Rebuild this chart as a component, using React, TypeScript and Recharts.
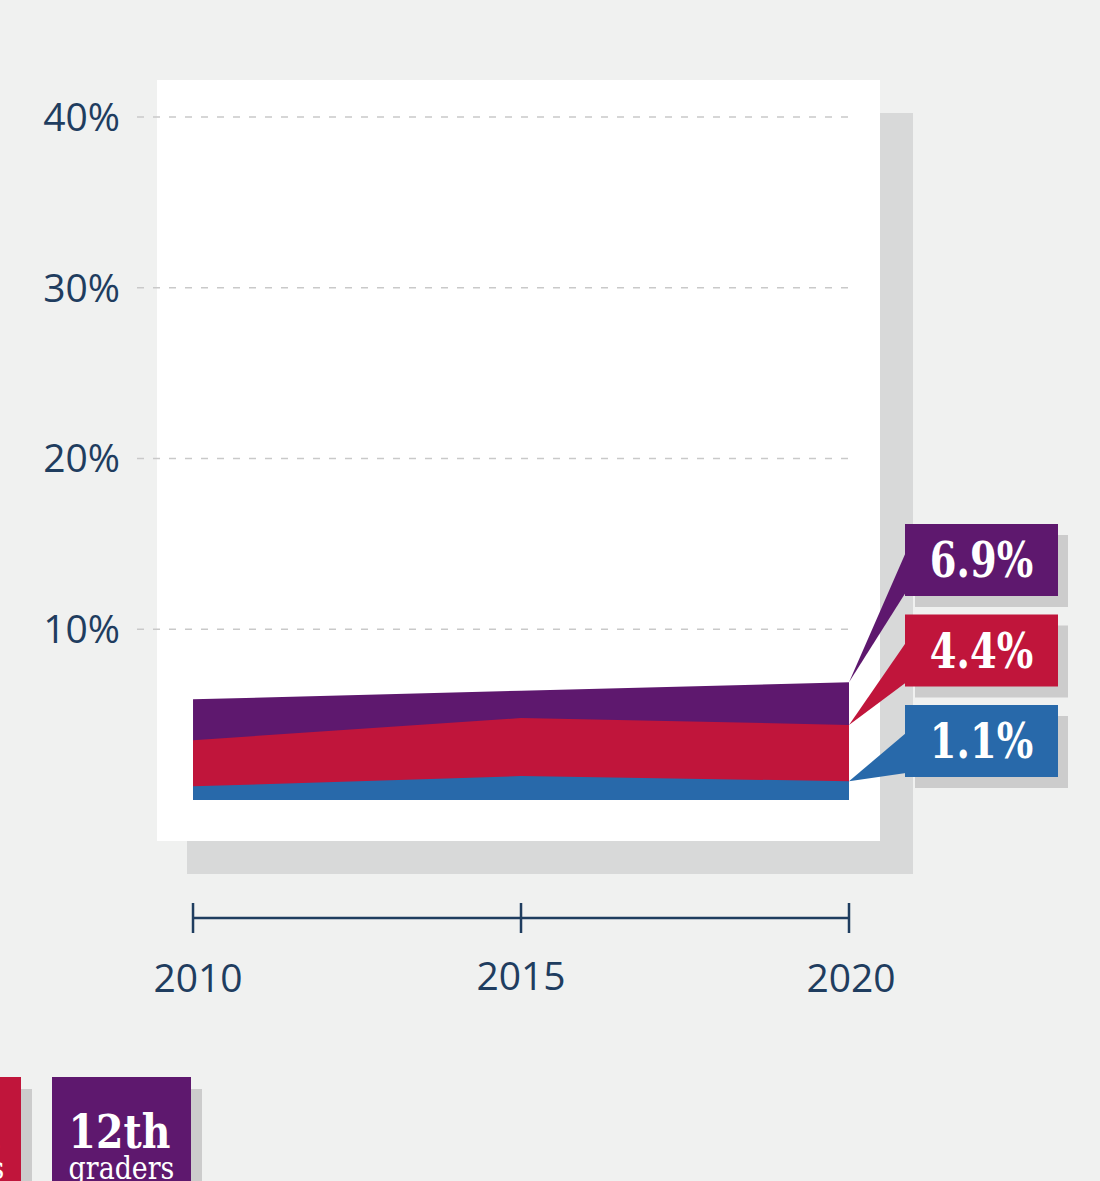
import React from "react";
import { Area, CartesianGrid, ComposedChart, LabelList, ReferenceLine, XAxis, YAxis } from "recharts";

const years = [2010, 2015, 2020];
const grade8 = [0.8, 1.4, 1.1];
const grade10 = [3.5, 4.8, 4.4];
const grade12 = [5.9, 6.4, 6.9];
const yTicks = [10, 20, 30, 40];

const NAVY = "#1f3d5f";
const BG = "#f0f1f0";
const SLAB = "'DejaVu Serif', serif";

// drawn back to front: biggest value first
const series = [
  { key: "grade12", label: "12th", color: "#5e186e" },
  { key: "grade10", label: "10th", color: "#c0153b" },
  { key: "grade8", label: "8th", color: "#2869aa" },
];

const data = years.map((year, i) => ({
  year,
  grade8: grade8[i],
  grade10: grade10[i],
  grade12: grade12[i],
}));

// the x axis sits well below zero, and the grid starts a bit left of 2010
const Y_MIN = -6.91;
const X_MIN = 2009.146;

function YearTick({ x, y, payload, index }: any) {
  const dx = index === 0 ? 5 : index === years.length - 1 ? 2 : 0;
  const dy = index === 0 || index === years.length - 1 ? 0 : -2;
  return (
    <g>
      <line x1={x} x2={x} y1={y - 15} y2={y + 15} stroke={NAVY} strokeWidth={2.5} />
      <text
        x={x + dx}
        y={y + 74 + dy}
        textAnchor="middle"
        fill={NAVY}
        fontSize={39}
        fontFamily="'Open Sans', sans-serif"
      >
        {payload.value}
      </text>
    </g>
  );
}

function Callout({ x, y, value, index, rank, color }: any) {
  if (index !== years.length - 1) return null;
  const w = 153;
  const h = 72;
  const left = x + 56;
  const top = 524 + rank * 90.5;
  return (
    <g>
      <rect x={left + 10} y={top + 11} width={w} height={h} fill="#cccccc" />
      <polygon points={`${x},${y} ${left + 1},${top + 28} ${left + 1},${top + h - 4}`} fill={color} />
      <rect x={left} y={top} width={w} height={h} fill={color} />
      <text
        transform={`translate(${left + w / 2},${top + h / 2}) scale(0.8,1)`}
        textAnchor="middle"
        dy="0.36em"
        fill="#fff"
        fontSize={48}
        fontWeight="bold"
        fontFamily={SLAB}
      >
        {`${Number(value).toFixed(1)}%`}
      </text>
    </g>
  );
}

function GradeLegend() {
  const items = [...series].reverse();
  return (
    <svg
      width={1100}
      height={1181}
      style={{ position: "absolute", left: 0, top: 0, pointerEvents: "none" }}
    >
      {items.map((s, i) => {
        const left = 52 - (items.length - 1 - i) * 170;
        const cx = left + 69.5;
        return (
          <g key={s.key}>
            <rect x={left + 11} y={1089} width={139} height={120} fill="#cccccc" />
            <rect x={left} y={1077} width={139} height={120} fill={s.color} />
            <text
              transform={`translate(${cx - 2},1148) scale(0.84,1)`}
              textAnchor="middle"
              fill="#fff"
              fontSize={47}
              fontWeight="bold"
              fontFamily={SLAB}
            >
              {s.label}
            </text>
            <text
              transform={`translate(${cx},1179) scale(0.84,1)`}
              textAnchor="middle"
              fill="#fff"
              fontSize={32}
              fontFamily={SLAB}
            >
              graders
            </text>
          </g>
        );
      })}
    </svg>
  );
}

export default function App() {
  return (
    <div style={{ position: "relative", width: 1100, height: 1181, background: BG, overflow: "hidden" }}>
      <style>{`body{margin:0;}`}</style>
      <div style={{ position: "absolute", left: 187, top: 113, width: 726, height: 761, background: "#d8d9d9" }} />
      <div style={{ position: "absolute", left: 157, top: 80, width: 723, height: 761, background: "#ffffff" }} />
      <div style={{ position: "absolute", left: 0, top: 0 }}>
        <ComposedChart
          width={1100}
          height={1181}
          data={data}
          margin={{ top: 117, right: 251, bottom: 143, left: 0 }}
        >
          <CartesianGrid
            vertical={false}
            horizontalValues={yTicks}
            stroke="#c9c9c9"
            strokeDasharray="7 9"
            strokeWidth={1.5}
          />
          <XAxis
            dataKey="year"
            type="number"
            domain={[X_MIN, 2020]}
            ticks={years}
            interval={0}
            height={120}
            axisLine={false}
            tickLine={false}
            tickSize={0}
            tickMargin={0}
            tick={<YearTick />}
            allowDataOverflow
          />
          <YAxis
            type="number"
            domain={[Y_MIN, 40]}
            ticks={yTicks}
            width={137}
            axisLine={false}
            tickLine={false}
            tickSize={0}
            tickMargin={17}
            tickFormatter={(v: number) => `${v}%`}
            tick={{ fill: NAVY, fontSize: 39, fontFamily: "'Open Sans', sans-serif" }}
            allowDataOverflow
          />
          <ReferenceLine
            segment={[
              { x: years[0], y: Y_MIN },
              { x: years[years.length - 1], y: Y_MIN },
            ]}
            stroke={NAVY}
            strokeWidth={2.5}
            ifOverflow="visible"
          />
          {series.map((s, rank) => (
            <Area
              key={s.key}
              type="linear"
              dataKey={s.key}
              baseValue={0}
              stroke="none"
              fill={s.color}
              fillOpacity={1}
              dot={false}
              activeDot={false}
              isAnimationActive={false}
            >
              <LabelList
                dataKey={s.key}
                content={(props: any) => <Callout {...props} rank={rank} color={s.color} />}
              />
            </Area>
          ))}
        </ComposedChart>
      </div>
      <GradeLegend />
    </div>
  );
}
